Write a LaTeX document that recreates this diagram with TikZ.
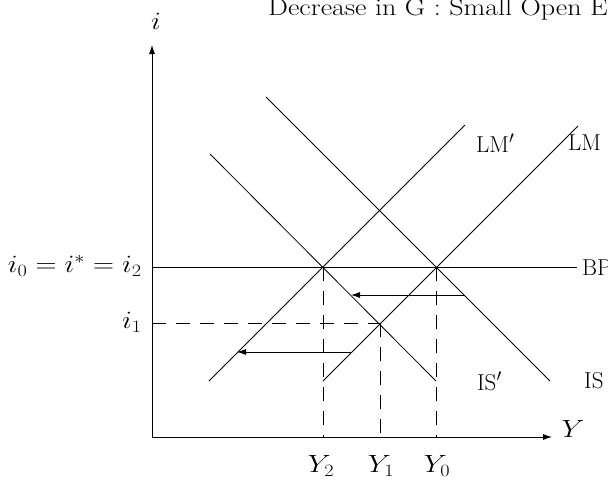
\documentclass[tikz,border=0pt]{standalone}
\usetikzlibrary{arrows.meta}
\newcommand{\wide}[1]{\scalebox{1.17}[1.0]{#1}}
\begin{document}
\begin{tikzpicture}[x=1pt,y=-1pt,
  curve/.style={line width=0.8pt},
  axis/.style={line width=0.8pt,-{Latex[length=9pt,width=6pt]}},
  shiftarrow/.style={line width=0.8pt,-{Latex[length=9pt,width=6pt]}},
  guide/.style={line width=0.8pt,dash pattern=on 14pt off 10pt},
  lab/.style={font=\fontsize{24}{28}\selectfont,inner sep=0pt},
  curvelab/.style={font=\fontsize{23}{28}\selectfont,inner sep=0pt,anchor=west}]
\useasboundingbox (0,0) rectangle (608,483);
% axes
\coordinate (O) at (152,437);
\coordinate (ytop) at (152,45);
\coordinate (xend) at (552,437);
\draw[axis] (O) -- (ytop);
\draw[axis] (O) -- (xend);
\node[lab] (ilab) at (156,21) {\wide{$i$}};
\node[lab] (Ylab) at (573,429) {\wide{$Y$}};
% title
\node[lab,anchor=base west] (title) at (268,15) {\wide{Decrease in G : Small Open Economy}};
% key points
\coordinate (A) at (323,267);
\coordinate (B) at (436,267);
\coordinate (C) at (380,323);
% BP
\coordinate (bp0) at (152,267);
\coordinate (bp1) at (577,267);
\draw[curve] (bp0) -- (bp1);
\node[curvelab] (BPlab) at (582,268) {BP};
% LM curves
\coordinate (lm0) at (323,381);
\coordinate (lm1) at (578,126);
\draw[curve] (lm0) -- (lm1);
\node[curvelab] (LMlab) at (568,143) {LM};
\coordinate (lmp0) at (209,381);
\coordinate (lmp1) at (465,125);
\draw[curve] (lmp0) -- (lmp1);
\node[curvelab] (LMplab) at (476,143) {LM$'$};
% IS curves
\coordinate (is0) at (266,97);
\coordinate (is1) at (550,381);
\draw[curve] (is0) -- (is1);
\node[curvelab] (ISlab) at (584,381) {IS};
\coordinate (isp0) at (210,154);
\coordinate (isp1) at (436,381);
\draw[curve] (isp0) -- (isp1);
\node[curvelab] (ISplab) at (477,381) {IS$'$};
% shifts
\coordinate (s1a) at (464,295);
\coordinate (s1b) at (351,295);
\draw[shiftarrow] (s1a) -- (s1b);
\coordinate (s2a) at (351,352);
\coordinate (s2b) at (237,352);
\draw[shiftarrow] (s2a) -- (s2b);
% guides
\coordinate (Y2) at (323,437);
\coordinate (Y1) at (380,437);
\coordinate (Y0) at (436,437);
\coordinate (i1) at (152,323);
\draw[guide] (A) -- (Y2);
\draw[guide] (C) -- (Y1);
\draw[guide] (B) -- (Y0);
\draw[guide] (i1) -- (C);
% axis labels
\node[lab] (Y2lab) at (321,466) {\wide{$Y_2$}};
\node[lab] (Y1lab) at (381,466) {\wide{$Y_1$}};
\node[lab] (Y0lab) at (437,466) {\wide{$Y_0$}};
\node[lab,anchor=east] (i0lab) at (142,266) {\wide{$i_0=i^*=i_2$}};
\node[lab,anchor=east] (i1lab) at (142,322) {\wide{$i_1$}};
\end{tikzpicture}
\end{document}
